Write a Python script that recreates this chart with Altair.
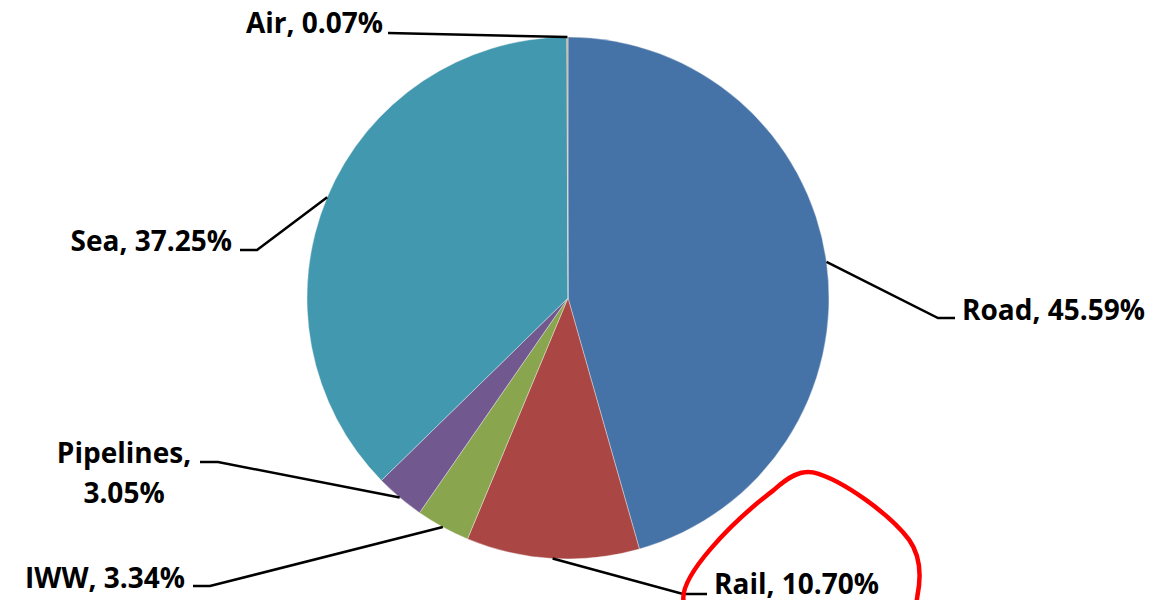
import math
import altair as alt
import pandas as pd

# ---- data ----
categories = ["Road", "Rail", "IWW", "Pipelines", "Sea", "Air"]
shares = [45.59, 10.70, 3.34, 3.05, 37.25, 0.07]
label_text = [["Road, 45.59%"], ["Rail, 10.70%"], ["IWW, 3.34%"],
              ["Pipelines,", "3.05%"], ["Sea, 37.25%"], ["Air, 0.07%"]]

# ---- style / layout ----
colors = ["#4572A7", "#AA4643", "#89A54E", "#71588F", "#4198AF", "#C9A27A"]
W, H = 1141, 592
CX, CY, R = 560, 290, 261
FONT = "Open Sans"
FS = 28

# leader-line layout: elbow point, stub end, text anchor (x, baselines), alignment
layout = {
    "Road":      dict(elbow=(930, 310), stub=(947, 310), tx=954, ty=[312], align="left"),
    "Rail":      dict(elbow=(675, 586), stub=(699, 586), tx=706, ty=[586], align="left"),
    "IWW":       dict(elbow=(202, 578), stub=(185, 578), tx=177, ty=[580], align="right"),
    "Pipelines": dict(elbow=(210, 454), stub=(192, 454), tx=116, ty=[455, 495], align="center"),
    "Sea":       dict(elbow=(249, 242), stub=(232, 242), tx=224, ty=[243], align="right"),
    "Air":       dict(elbow=None, stub=(380, 25), tx=375, ty=[25], align="right"),
}

pie_df = pd.DataFrame({"cat": categories, "share": shares, "idx": range(len(categories))})

# leader lines start at mid-angle of each slice on the pie edge
total = sum(shares)
rows = []
cum = 0.0
for cat, s in zip(categories, shares):
    mid = (cum + s / 2) / total * 2 * math.pi
    cum += s
    sx0 = CX + R * math.sin(mid)
    sy0 = CY - R * math.cos(mid)
    L = layout[cat]
    pts = [(sx0, sy0)]
    if L["elbow"] is not None:
        pts.append(L["elbow"])
    pts.append(L["stub"])
    for k, (px, py) in enumerate(pts):
        rows.append({"cat": cat, "k": k, "px": px, "py": py})
line_df = pd.DataFrame(rows)

text_rows = []
for cat, lines in zip(categories, label_text):
    L = layout[cat]
    for line, ty in zip(lines, L["ty"]):
        text_rows.append({"cat": cat, "txt": line, "px": L["tx"], "py": ty, "align": L["align"]})
text_df = pd.DataFrame(text_rows)

xs = alt.Scale(domain=[0, W])
ys = alt.Scale(domain=[0, H], reverse=True)

pie = alt.Chart(pie_df).mark_arc(radius=R, stroke="#f2f2f2", strokeWidth=0.4).encode(
    theta=alt.Theta("share:Q", stack=True),
    color=alt.Color("cat:N", scale=alt.Scale(domain=categories, range=colors), legend=None),
    order=alt.Order("idx:Q"),
    x=alt.value(CX),
    y=alt.value(CY),
)

leaders = alt.Chart(line_df).mark_line(color="#000000", strokeWidth=2.5).encode(
    x=alt.X("px:Q", scale=xs, axis=None),
    y=alt.Y("py:Q", scale=ys, axis=None),
    detail="cat:N",
    order="k:Q",
)

def text_layer(align):
    return alt.Chart(text_df[text_df["align"] == align]).mark_text(
        align=align, baseline="alphabetic", font=FONT, fontSize=FS, fontWeight="bold",
        color="#000000",
    ).encode(
        x=alt.X("px:Q", scale=xs, axis=None),
        y=alt.Y("py:Q", scale=ys, axis=None),
        text="txt:N",
    )

# red hand-drawn annotation around the Rail label
ANNOT_PATH = ("M-0.98,0.08 C-1.0,-0.12 -0.6,-0.55 -0.23,-0.83 "
              "C-0.1,-0.95 0.0,-1.0 0.1,-0.98 C0.35,-0.92 0.75,-0.62 0.9,-0.42 "
              "C1.0,-0.28 1.0,-0.1 0.97,0.05 C0.9,0.6 0.4,1.0 0,1 "
              "C-0.5,1 -0.95,0.5 -0.98,0.08 Z")
ann_df = pd.DataFrame({"px": [793], "py": [582]})
annot = alt.Chart(ann_df).mark_point(
    shape=ANNOT_PATH, size=240 ** 2, filled=False, stroke="#FF0000",
    strokeWidth=4.5, opacity=1,
).encode(
    x=alt.X("px:Q", scale=xs, axis=None),
    y=alt.Y("py:Q", scale=ys, axis=None),
)

chart = alt.layer(
    pie, leaders, text_layer("left"), text_layer("right"), text_layer("center"), annot
).properties(
    width=W, height=H, padding=0, autosize=alt.AutoSizeParams(type="none"),
    background="white",
).configure_view(stroke=None)

chart.save("out.html", embed_options={"renderer": "svg", "actions": False})
